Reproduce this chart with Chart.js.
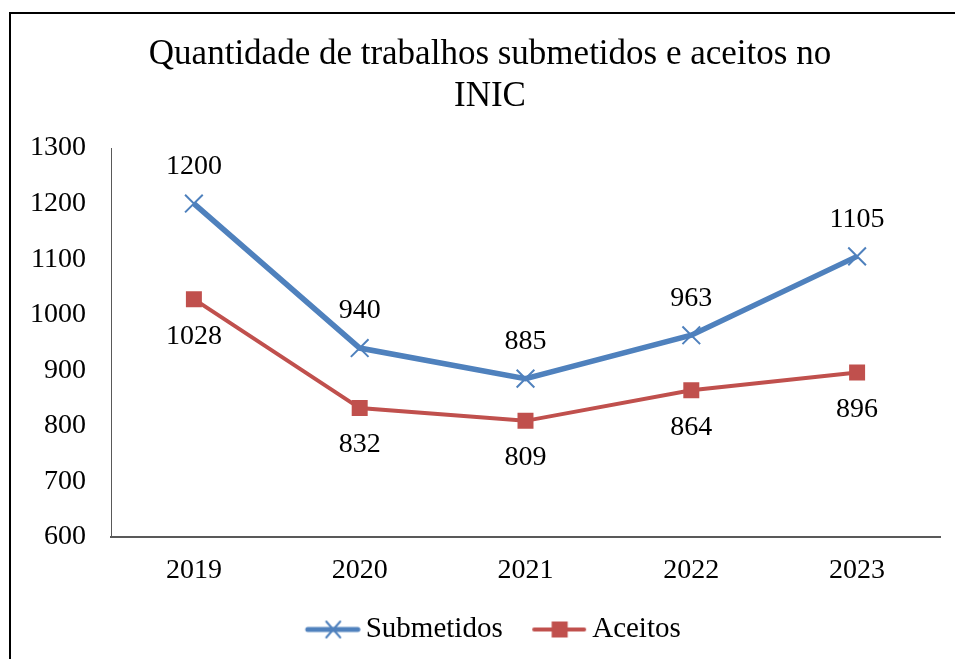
<!DOCTYPE html>
<html>
<head>
<meta charset="utf-8">
<script src="https://cdn.jsdelivr.net/npm/chart.js@4"></script>
<style>
  html, body { margin: 0; padding: 0; background: #fff; overflow: hidden; }
  #frame { position: absolute; left: 9px; top: 12px; width: 1000px; height: 700px;
           border-left: 2px solid #000; border-top: 2px solid #000; }
  #wrap { position: absolute; left: 0; top: 0; width: 955px; height: 659px; }
</style>
</head>
<body>
<div id="frame"></div>
<div id="wrap"><canvas id="chart"></canvas></div>
<script>
const years = ['2019', '2020', '2021', '2022', '2023'];
const submetidos = [1200, 940, 885, 963, 1105];
const aceitos = [1028, 832, 809, 864, 896];
const yTicks = [600, 700, 800, 900, 1000, 1100, 1200, 1300];

const BLUE = '#4F81BD';
const RED = '#C0504D';
const FONT = "'Liberation Serif', 'Times New Roman', serif";

// legend swatch: line with marker, drawn on the right part of a wider
// transparent canvas so the line ends close to the label text
function legendSwatch(color, lineWidth, marker) {
  const c = document.createElement('canvas');
  c.width = 71; c.height = 24;
  const g = c.getContext('2d');
  g.strokeStyle = color;
  g.fillStyle = color;
  g.lineCap = 'round';
  g.lineWidth = lineWidth;
  g.beginPath(); g.moveTo(18, 12); g.lineTo(68, 12); g.stroke();
  const mx = 43.5;
  if (marker === 'cross') {
    g.lineWidth = 2;
    g.beginPath();
    g.moveTo(mx - 7, 4); g.lineTo(mx + 7, 20);
    g.moveTo(mx + 7, 4); g.lineTo(mx - 7, 20);
    g.stroke();
  } else {
    g.fillRect(mx - 8, 4, 16, 16);
  }
  return c;
}
const swatches = [legendSwatch(BLUE, 5, 'cross'), legendSwatch(RED, 4, 'square')];

// value labels above (Submetidos) and below (Aceitos) the points
const valueLabels = {
  id: 'valueLabels',
  afterDatasetsDraw(chart) {
    const ctx = chart.ctx;
    ctx.save();
    ctx.font = '28px ' + FONT;
    ctx.fillStyle = '#000';
    ctx.textAlign = 'center';
    ctx.textBaseline = 'middle';
    chart.data.datasets.forEach((ds, i) => {
      const meta = chart.getDatasetMeta(i);
      const off = i === 0 ? -37 : 37;
      meta.data.forEach((pt, j) => {
        ctx.fillText(String(ds.data[j]), pt.x, pt.y + off);
      });
    });
    ctx.restore();
  }
};

new Chart(document.getElementById('chart'), {
  type: 'line',
  data: {
    labels: years,
    datasets: [
      {
        label: 'Submetidos',
        data: submetidos,
        borderColor: BLUE,
        backgroundColor: BLUE,
        borderWidth: 5.5,
        pointStyle: 'crossRot',
        pointRadius: 12.5,
        pointHoverRadius: 12.5,
        pointBorderWidth: 2,
        pointBorderColor: BLUE,
        tension: 0
      },
      {
        label: 'Aceitos',
        data: aceitos,
        borderColor: RED,
        backgroundColor: RED,
        borderWidth: 4,
        pointStyle: 'rect',
        pointRadius: 11.3,
        pointHoverRadius: 11.3,
        pointBorderWidth: 0,
        pointBackgroundColor: RED,
        tension: 0
      }
    ]
  },
  options: {
    responsive: true,
    maintainAspectRatio: false,
    animation: false,
    layout: { padding: { left: 25, right: 0, top: 0, bottom: 5 } },
    plugins: {
      title: {
        display: true,
        text: ['Quantidade de trabalhos submetidos e aceitos no', 'INIC'],
        color: '#000',
        font: { family: FONT, size: 35, weight: 'normal', lineHeight: 1.2 },
        padding: { top: 34, bottom: 30 }
      },
      legend: {
        position: 'bottom',
        labels: {
          color: '#000',
          font: { family: FONT, size: 29 },
          usePointStyle: true,
          pointStyleWidth: 52,
          padding: 23,
          generateLabels(chart) {
            const items = Chart.defaults.plugins.legend.labels.generateLabels(chart);
            items.forEach((it, i) => { it.pointStyle = swatches[i]; });
            return items;
          }
        }
      },
      tooltip: { enabled: false }
    },
    scales: {
      x: {
        offset: true,
        afterFit(scale) { scale.height = 55; },
        grid: { display: false, drawTicks: false },
        border: { display: true, color: '#595959', width: 2 },
        ticks: { color: '#000', font: { family: FONT, size: 28 }, padding: 17 }
      },
      y: {
        min: 600,
        max: 1300,
        afterBuildTicks(scale) {
          scale.ticks = yTicks.map(v => ({ value: v }));
        },
        afterFit(scale) { scale.width = 86; },
        grid: { display: false, drawTicks: false },
        border: { display: true, color: '#595959', width: 1 },
        ticks: {
          color: '#000',
          font: { family: FONT, size: 28 },
          padding: 25,
          callback: v => String(v)
        }
      },
      // empty right-hand margin of the plot area
      yRight: {
        position: 'right',
        min: 600,
        max: 1300,
        afterFit(scale) { scale.width = 15; },
        grid: { display: false, drawTicks: false },
        border: { display: false },
        ticks: { display: false }
      }
    }
  },
  plugins: [valueLabels]
});
</script>
</body>
</html>
